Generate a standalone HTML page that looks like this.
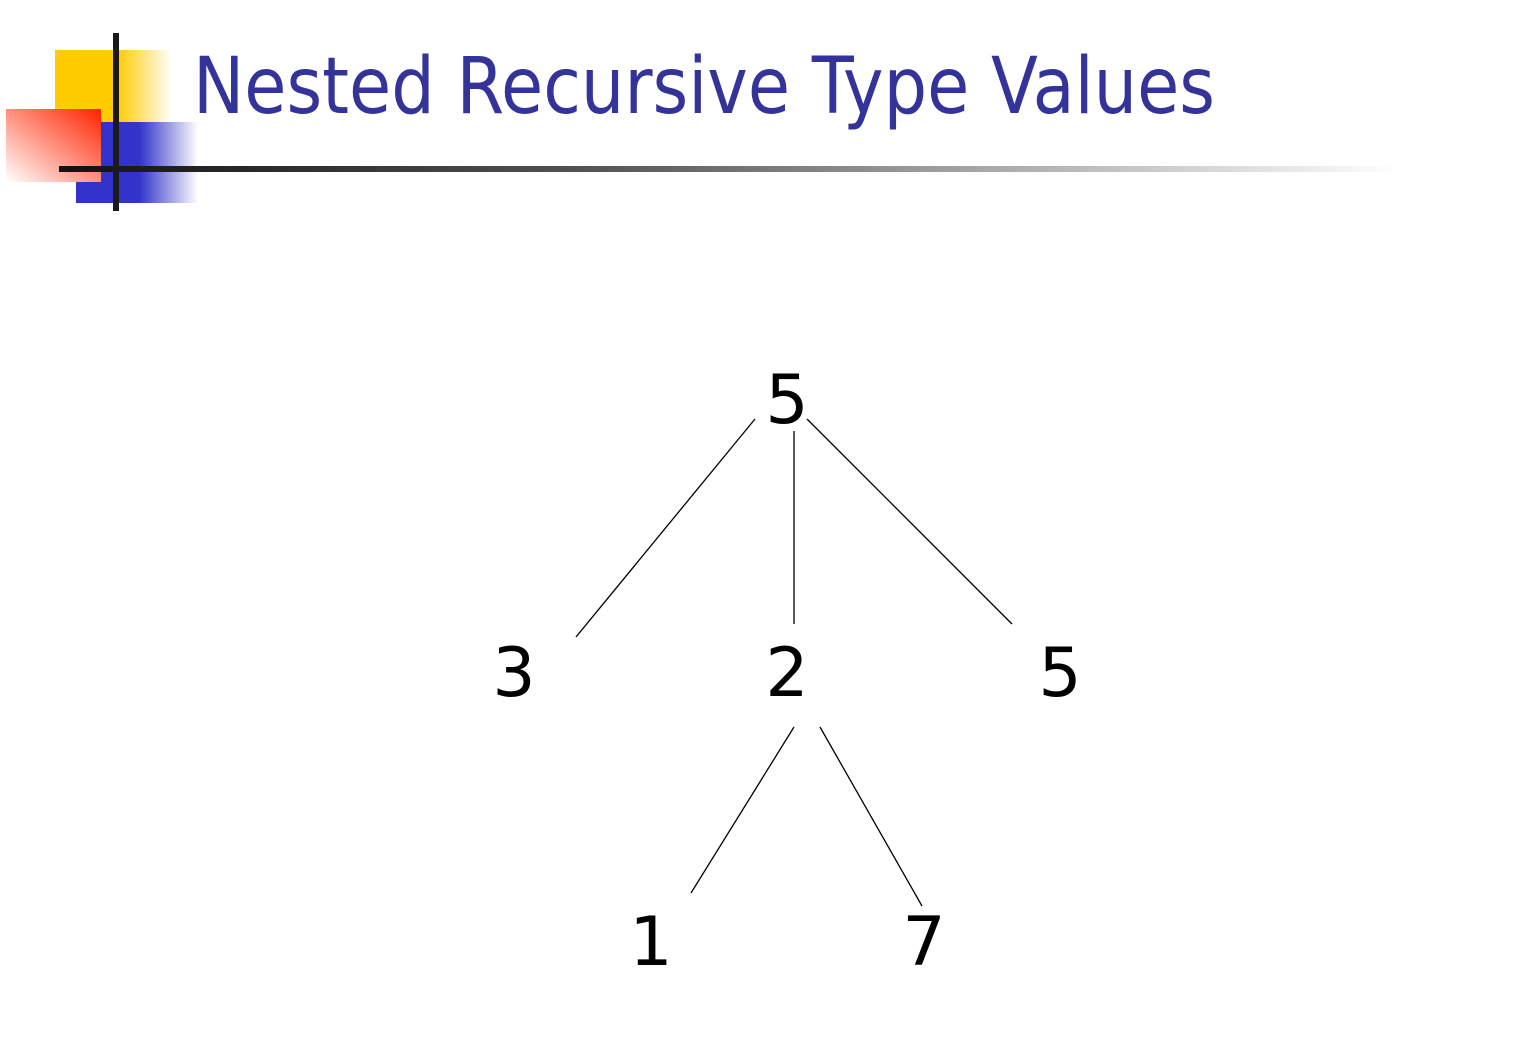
<!DOCTYPE html>
<html><head><style>body{margin:0;background:#fff}svg{display:block}</style></head><body>
<svg width="1533" height="1043" xmlns="http://www.w3.org/2000/svg">
<defs>
<linearGradient id="y" x1="0" x2="1"><stop offset="0.53" stop-color="#ffcc00"/><stop offset="1" stop-color="#ffcc00" stop-opacity="0"/></linearGradient>
<linearGradient id="b" x1="0" x2="1"><stop offset="0.52" stop-color="#3333cc"/><stop offset="1" stop-color="#3333cc" stop-opacity="0"/></linearGradient>
<linearGradient id="r" x1="1" y1="0" x2="0" y2="1"><stop offset="0" stop-color="#ff2200"/><stop offset="1" stop-color="#ffffff"/></linearGradient>
<linearGradient id="h" x1="0" x2="1"><stop offset="0" stop-color="#111"/><stop offset="0.4" stop-color="#555"/><stop offset="1" stop-color="#555" stop-opacity="0"/></linearGradient>
</defs>
<rect x="55" y="50" width="117" height="72" fill="url(#y)"/>
<rect x="76" y="122" width="122" height="81" fill="url(#b)"/>
<rect x="6" y="109" width="95" height="73" fill="url(#r)"/>
<rect x="59" y="166" width="1341" height="6" fill="url(#h)"/>
<rect x="113" y="33" width="6" height="178" fill="#1a1a1a"/>
<text x="193" y="113" font-family="DejaVu Sans, sans-serif" font-size="78" fill="#333399" textLength="1022" lengthAdjust="spacingAndGlyphs">Nested Recursive Type Values</text>
<g stroke="#000" stroke-width="1.3">
<line x1="755" y1="419" x2="576" y2="637"/>
<line x1="794" y1="431" x2="794" y2="624"/>
<line x1="807" y1="419" x2="1012" y2="624"/>
<line x1="794" y1="727" x2="691" y2="893"/>
<line x1="820" y1="727" x2="922" y2="906"/>
</g>
<g font-family="DejaVu Sans, sans-serif" font-size="68" fill="#000" text-anchor="middle">
<text x="787" y="423">5</text>
<text x="514" y="696">3</text>
<text x="787" y="696">2</text>
<text x="1060" y="696">5</text>
<text x="651" y="965">1</text>
<text x="924" y="965">7</text>
</g>
</svg>
</body></html>
